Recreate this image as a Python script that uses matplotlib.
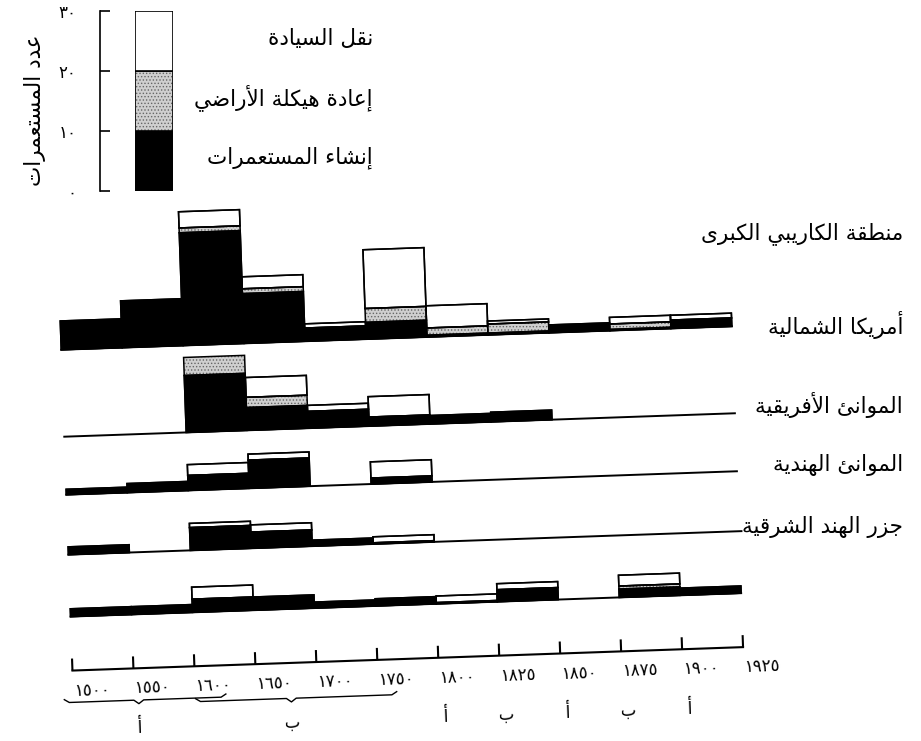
import numpy as np
import matplotlib
matplotlib.use('Agg')
import matplotlib.pyplot as plt
import matplotlib.transforms as mtransforms

# matplotlib does no Arabic shaping or bidi, so do a small one here
RIGHT_JOIN = {'آ': 0xFE81, 'أ': 0xFE83, 'ؤ': 0xFE85, 'إ': 0xFE87, 'ا': 0xFE8D,
              'ة': 0xFE93, 'د': 0xFEA9, 'ذ': 0xFEAB, 'ر': 0xFEAD, 'ز': 0xFEAF,
              'و': 0xFEED, 'ى': 0xFEEF}
DUAL_JOIN = {'ئ': 0xFE89, 'ب': 0xFE8F, 'ت': 0xFE95, 'ث': 0xFE99, 'ج': 0xFE9D,
             'ح': 0xFEA1, 'خ': 0xFEA5, 'س': 0xFEB1, 'ش': 0xFEB5, 'ص': 0xFEB9,
             'ض': 0xFEBD, 'ط': 0xFEC1, 'ظ': 0xFEC5, 'ع': 0xFEC9, 'غ': 0xFECD,
             'ف': 0xFED1, 'ق': 0xFED5, 'ك': 0xFED9, 'ل': 0xFEDD, 'م': 0xFEE1,
             'ن': 0xFEE5, 'ه': 0xFEE9, 'ي': 0xFEF1}
LAM_ALEF = {'آ': 0xFEF5, 'أ': 0xFEF7, 'إ': 0xFEF9, 'ا': 0xFEFB}


def ar(text):
    """ shape an Arabic string and return it in visual (left to right) order """
    toks = []
    i = 0
    while i < len(text):
        c = text[i]
        if c == 'ل' and i + 1 < len(text) and text[i + 1] in LAM_ALEF:
            toks.append((c, LAM_ALEF[text[i + 1]]))
            i += 2
        else:
            toks.append((c, None))
            i += 1

    def kind(t):
        if t[1] is not None:
            return 'R'
        if t[0] in DUAL_JOIN:
            return 'D'
        if t[0] in RIGHT_JOIN:
            return 'R'
        return 'N'

    out = []
    for j, t in enumerate(toks):
        k = kind(t)
        prev = kind(toks[j - 1]) if j > 0 else 'N'
        nxt = kind(toks[j + 1]) if j + 1 < len(toks) else 'N'
        jp = k != 'N' and prev == 'D'
        jn = k == 'D' and nxt != 'N'
        if t[1] is not None:
            out.append(chr(t[1] + (1 if jp else 0)))
        elif k == 'D':
            off = 3 if (jp and jn) else 1 if jp else 2 if jn else 0
            out.append(chr(DUAL_JOIN[t[0]] + off))
        elif k == 'R':
            out.append(chr(RIGHT_JOIN[t[0]] + (1 if jp else 0)))
        else:
            out.append(t[0])
    return ''.join(reversed(out))


def ar_num(n):
    return str(n).translate(str.maketrans('0123456789', '٠١٢٣٤٥٦٧٨٩'))


# ---- data -------------------------------------------------------------
periods = [1500, 1550, 1600, 1650, 1700, 1750, 1800, 1825, 1850, 1875, 1900, 1925]
regions = ['منطقة الكاريبي الكبرى', 'أمريكا الشمالية', 'الموانئ الأفريقية',
           'الموانئ الهندية', 'جزر الهند الشرقية']
legend_labels = ['إنشاء المستعمرات', 'إعادة هيكلة الأراضي', 'نقل السيادة']
ylabel = 'عدد المستعمرات'
legend_ticks = [0, 10, 20, 30]

# number of colonies per period, one list per row (top row first)
new_colonies = [
    [4.8, 7.8, 18.8, 8.3, 2.2, 2.8, 0.3, 0.3, 1.3, 0.2, 1.4],
    [0, 0, 9.5, 3.8, 2.8, 1.5, 1.4, 1.6, 0, 0, 0],
    [0.9, 1.5, 2.5, 4.7, 0, 1.0, 0, 0, 0, 0, 0],
    [1.3, 0, 3.8, 2.7, 1.0, 0.2, 0, 0, 0, 0, 0],
    [1.3, 1.3, 2.2, 2.2, 1.0, 1.2, 0.2, 2.0, 0, 1.4, 1.2],
]
restructured = [
    [0, 0, 0.8, 0.8, 0, 2.3, 1.2, 1.5, 0, 0.9, 0],
    [0, 0, 3.0, 1.7, 0, 0, 0, 0, 0, 0, 0],
    [0, 0, 0, 0, 0, 0, 0, 0, 0, 0, 0],
    [0, 0, 0, 0, 0, 0, 0, 0, 0, 0, 0],
    [0, 0, 0, 0, 0, 0, 0, 0, 0, 0.5, 0],
]
transferred = [
    [0, 0, 2.7, 2.0, 0.7, 9.8, 3.7, 0.5, 0, 1.1, 0.8],
    [0, 0, 0, 3.3, 1.0, 3.4, 0, 0, 0, 0, 0],
    [0, 0, 1.8, 1.0, 0, 2.7, 0, 0, 0, 0, 0],
    [0, 0, 0.7, 1.2, 0, 1.0, 0, 0, 0, 0, 0],
    [0, 0, 2.0, 0, 0, 0, 1.1, 1.0, 0, 1.8, 0],
]

# phases (A / B) under the time axis
phase_spans = [(1500, 1600, 'أ'), (1600, 1750, 'ب')]
phase_points = [(1800, 'أ'), (1825, 'ب'), (1850, 'أ'), (1875, 'ب'), (1900, 'أ')]

# ---- layout -----------------------------------------------------------
W, H = 921, 741
row_base = [44.5, 30.0, 20.33, 10.33, 0.0]   # baseline of each row, in count units
axis_y = -9.0
TILT = 2.0                                   # the scanned page is slightly rotated
label_y_px = [234, 325, 405, 465, 527]
legend_text_y = [5.6, 15.5, 25.3]
TXT = 15.5

plt.rcParams['font.family'] = 'DejaVu Sans'
plt.rcParams['hatch.linewidth'] = 0.6

fig = plt.figure(figsize=(W / 100, H / 100), dpi=100)
ax = fig.add_axes([0, 0, 1, 1])
ax.set_xlim(-66 / 61, (W - 66) / 61)
ax.set_ylim(-(H - 605) / 6, 605 / 6)
ax.axis('off')

rot = mtransforms.Affine2D().rotate_deg_around(400, H - 480, TILT)
tr = ax.transData + rot

n = len(periods) - 1
x = np.arange(n) + 0.5
for r in range(len(row_base)):
    base = row_base[r]
    blk = np.array(new_colonies[r], dtype=float)
    stp = np.array(restructured[r], dtype=float)
    wht = np.array(transferred[r], dtype=float)

    line_end = n + 0.04 if r == 3 else n
    ax.plot([0, line_end], [base, base], color='black', lw=1.4, transform=tr, zorder=1)

    for vals, bot, face, hatch, ec in [(blk, 0 * blk, 'black', None, 'black'),
                                       (stp, blk, '#cfcfcf', '.....', '#666666'),
                                       (wht, blk + stp, 'white', None, 'black')]:
        m = vals > 0
        if not m.any():
            continue
        ax.bar(x[m], vals[m], bottom=base + bot[m], width=1.0, color=face,
               edgecolor=ec, linewidth=0 if hatch else 1.1, hatch=hatch,
               transform=tr, zorder=2)
        ax.bar(x[m], vals[m], bottom=base + bot[m], width=1.0, facecolor='none',
               edgecolor='black', linewidth=1.1, transform=tr, zorder=3)

# time axis
ax.plot([0, n], [axis_y, axis_y], color='black', lw=1.5, transform=tr)
ax.vlines(np.arange(n + 1), axis_y, axis_y + 2.0, color='black', lw=1.5, transform=tr)
for i, yr in enumerate(periods):
    ax.text(i + 0.31, axis_y - 3.35, ar_num(yr), ha='center', va='center',
            fontsize=12, rotation=TILT, rotation_mode='anchor', transform=tr)

# phase brackets and letters
pads = [(-0.15, 0.5), (0.0, 0.3)]
for (y0, y1, lab), (p0, p1), by in zip(phase_spans, pads, [-14.3, -14.9]):
    i0, i1 = periods.index(y0), periods.index(y1)
    a, b = i0 + p0, i1 + p1
    mid = (i0 + i1) / 2 + 0.07
    ax.plot([a, a + 0.08, mid - 0.08, mid, mid + 0.08, b - 0.08, b],
            [by + 0.5, by, by, by - 0.6, by, by, by + 0.5],
            color='black', lw=1.0, transform=tr)
    ax.text(mid, -18.9, ar(lab), ha='center', va='center', fontsize=12,
            rotation=TILT, rotation_mode='anchor', transform=tr)
for yr, lab in phase_points:
    ax.text(periods.index(yr) + 0.08, -18.9, ar(lab), ha='center', va='center',
            fontsize=12, rotation=TILT, rotation_mode='anchor', transform=tr)

# region names
for name, ypx in zip(regions, label_y_px):
    fig.text(903 / W, 1 - ypx / H, ar(name), ha='right', va='center', fontsize=TXT)

# legend: one stacked bar with its own scale
lax = fig.add_axes([135 / W, 1 - 191 / H, 38 / W, 180 / H])
lax.set_xlim(0, 1)
lax.set_ylim(0, 30)
lax.bar(0.5, 10, bottom=0, width=1, color='black', edgecolor='black', lw=1.2)
lax.bar(0.5, 10, bottom=10, width=1, color='#cfcfcf', edgecolor='#666666', lw=0, hatch='.....')
lax.bar(0.5, 10, bottom=10, width=1, facecolor='none', edgecolor='black', lw=1.2)
lax.bar(0.5, 10, bottom=20, width=1, color='white', edgecolor='black', lw=1.2)
for s in ['top', 'right', 'bottom']:
    lax.spines[s].set_visible(False)
lax.spines['left'].set_position(('outward', 25))
lax.spines['left'].set_linewidth(1.2)
lax.set_xticks([])
lax.set_yticks(legend_ticks)
lax.set_yticklabels([ar_num(v) for v in legend_ticks])
lax.tick_params(axis='y', direction='in', length=7, width=1.2, labelsize=12, pad=17)
lax.set_ylabel(ar(ylabel), fontsize=TXT)
lax.yaxis.set_label_coords(-2.35, 0.45)
lax.patch.set_alpha(0)

ltr = mtransforms.blended_transform_factory(fig.transFigure, lax.transData)
for lab, yv in zip(legend_labels, legend_text_y):
    fig.text(373 / W, yv, ar(lab), ha='right', va='center', fontsize=TXT, transform=ltr)

fig.savefig('out.png', dpi=100)
